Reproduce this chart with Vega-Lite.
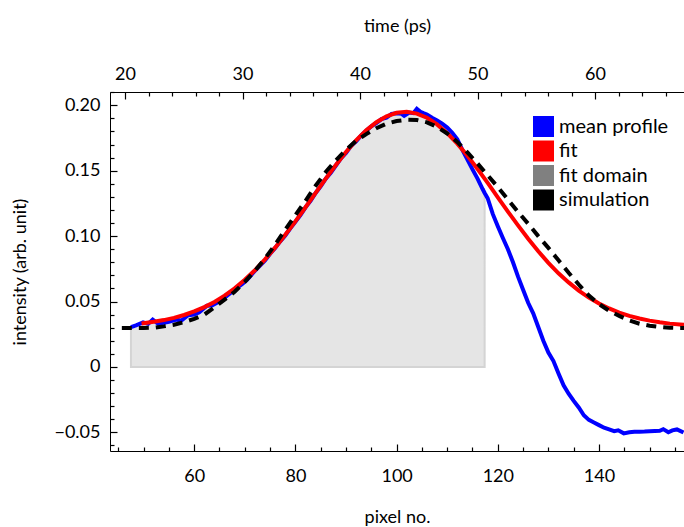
{
  "$schema": "https://vega.github.io/schema/vega-lite/v6.json",
  "width": 574,
  "height": 359,
  "autosize": "none",
  "padding": {"left": 110, "top": 92, "right": 0, "bottom": 76},
  "background": "white",
  "config": {
    "view": {"stroke": "black", "strokeWidth": 1},
    "font": "Lato",
    "axis": {
      "grid": false,
      "ticks": true,
      "domain": false,
      "zindex": 2,
      "tickColor": "black",
      "tickWidth": 1.2,
      "tickOpacity": 1,
      "labelColor": "black",
      "titleColor": "black",
      "labelFont": "Lato",
      "titleFont": "Lato",
      "labelFontSize": 18,
      "titleFontSize": 18,
      "titleFontWeight": "normal",
      "labelOverlap": false,
      "labelFlush": false
    }
  },
  "datasets": {
    "profile": [
      {"p": 47.5, "v": 0.0304}, {"p": 48.5, "v": 0.0318}, {"p": 49.9, "v": 0.034}, {"p": 50.9, "v": 0.0329},
      {"p": 51.8, "v": 0.0361}, {"p": 52.9, "v": 0.0329}, {"p": 54.0, "v": 0.0338}, {"p": 55.0, "v": 0.0345},
      {"p": 56.5, "v": 0.0361}, {"p": 57.5, "v": 0.0355}, {"p": 58.8, "v": 0.0395}, {"p": 60.0, "v": 0.04},
      {"p": 61.0, "v": 0.0418}, {"p": 62.5, "v": 0.0468}, {"p": 63.5, "v": 0.047}, {"p": 64.5, "v": 0.049},
      {"p": 65.5, "v": 0.0515}, {"p": 66.5, "v": 0.0545}, {"p": 67.5, "v": 0.0575}, {"p": 68.5, "v": 0.0605},
      {"p": 69.5, "v": 0.0635}, {"p": 70.5, "v": 0.0668}, {"p": 72, "v": 0.0735}, {"p": 73, "v": 0.0775},
      {"p": 74, "v": 0.0815}, {"p": 75, "v": 0.0865}, {"p": 76, "v": 0.091}, {"p": 77, "v": 0.096},
      {"p": 78, "v": 0.1005}, {"p": 79, "v": 0.106}, {"p": 80, "v": 0.111}, {"p": 81, "v": 0.116},
      {"p": 82, "v": 0.122}, {"p": 83, "v": 0.127}, {"p": 84, "v": 0.133}, {"p": 85, "v": 0.138},
      {"p": 86, "v": 0.144}, {"p": 87, "v": 0.1485}, {"p": 88, "v": 0.154}, {"p": 89, "v": 0.1595},
      {"p": 90, "v": 0.1635}, {"p": 91, "v": 0.169}, {"p": 92, "v": 0.1725}, {"p": 93, "v": 0.177},
      {"p": 94, "v": 0.1805}, {"p": 95, "v": 0.184}, {"p": 96, "v": 0.1865}, {"p": 97, "v": 0.1895},
      {"p": 98, "v": 0.1905}, {"p": 99, "v": 0.1935}, {"p": 100, "v": 0.194}, {"p": 101, "v": 0.1935},
      {"p": 101.5, "v": 0.192}, {"p": 102.5, "v": 0.1945}, {"p": 103.3, "v": 0.194}, {"p": 104, "v": 0.1973},
      {"p": 104.7, "v": 0.195}, {"p": 105.3, "v": 0.194}, {"p": 106, "v": 0.193}, {"p": 107, "v": 0.1905},
      {"p": 108, "v": 0.1885}, {"p": 109, "v": 0.186}, {"p": 110, "v": 0.183}, {"p": 111, "v": 0.179},
      {"p": 112, "v": 0.174}, {"p": 113, "v": 0.166}, {"p": 114, "v": 0.1585}, {"p": 115, "v": 0.151},
      {"p": 116, "v": 0.144}, {"p": 117, "v": 0.136}, {"p": 117.4, "v": 0.133}, {"p": 118, "v": 0.129},
      {"p": 119, "v": 0.117}, {"p": 120, "v": 0.1075}, {"p": 121, "v": 0.0985}, {"p": 122, "v": 0.09},
      {"p": 123, "v": 0.08}, {"p": 124, "v": 0.069}, {"p": 125, "v": 0.059}, {"p": 126, "v": 0.049},
      {"p": 127, "v": 0.041}, {"p": 128, "v": 0.0305}, {"p": 129, "v": 0.02}, {"p": 130, "v": 0.011},
      {"p": 131, "v": 0.0045}, {"p": 132, "v": -0.005}, {"p": 133, "v": -0.014}, {"p": 134, "v": -0.0205},
      {"p": 135, "v": -0.026}, {"p": 136, "v": -0.031}, {"p": 137, "v": -0.037}, {"p": 138, "v": -0.0405},
      {"p": 139, "v": -0.0425}, {"p": 140, "v": -0.0445}, {"p": 141, "v": -0.0465}, {"p": 142, "v": -0.0478},
      {"p": 143, "v": -0.0492}, {"p": 143.8, "v": -0.0485}, {"p": 144.9, "v": -0.0508}, {"p": 146, "v": -0.05},
      {"p": 147, "v": -0.0496}, {"p": 148, "v": -0.0495}, {"p": 149, "v": -0.0494}, {"p": 150, "v": -0.0492},
      {"p": 151, "v": -0.049}, {"p": 152, "v": -0.0488}, {"p": 152.7, "v": -0.0476}, {"p": 153.7, "v": -0.05},
      {"p": 154.5, "v": -0.0485}, {"p": 155.4, "v": -0.0478}, {"p": 156.7, "v": -0.0502}
    ],
    "fit": [
      {"p": 49.6, "v": 0.0332}, {"p": 52, "v": 0.0345}, {"p": 54, "v": 0.0358}, {"p": 56, "v": 0.0375},
      {"p": 58, "v": 0.0397}, {"p": 60, "v": 0.0424}, {"p": 62, "v": 0.0457}, {"p": 64, "v": 0.0497},
      {"p": 66, "v": 0.0545}, {"p": 68, "v": 0.0601}, {"p": 70, "v": 0.0666}, {"p": 72, "v": 0.0739},
      {"p": 74, "v": 0.0822}, {"p": 76, "v": 0.0912}, {"p": 78, "v": 0.101}, {"p": 80, "v": 0.1113},
      {"p": 82, "v": 0.1221}, {"p": 84, "v": 0.133}, {"p": 86, "v": 0.1439}, {"p": 88, "v": 0.1544},
      {"p": 90, "v": 0.1643}, {"p": 92, "v": 0.1732}, {"p": 94, "v": 0.1809}, {"p": 96, "v": 0.1871},
      {"p": 98, "v": 0.1916}, {"p": 100, "v": 0.1943}, {"p": 102, "v": 0.195}, {"p": 104, "v": 0.1937},
      {"p": 106, "v": 0.1905}, {"p": 108, "v": 0.1854}, {"p": 110, "v": 0.1787}, {"p": 112, "v": 0.1707},
      {"p": 114, "v": 0.1614}, {"p": 116, "v": 0.1513}, {"p": 118, "v": 0.1407}, {"p": 120, "v": 0.1297},
      {"p": 122, "v": 0.1188}, {"p": 124, "v": 0.1082}, {"p": 126, "v": 0.098}, {"p": 128, "v": 0.0884},
      {"p": 130, "v": 0.0796}, {"p": 132, "v": 0.0716}, {"p": 134, "v": 0.0646}, {"p": 136, "v": 0.0583},
      {"p": 138, "v": 0.053}, {"p": 140, "v": 0.0485}, {"p": 142, "v": 0.0447}, {"p": 144, "v": 0.0415},
      {"p": 146, "v": 0.039}, {"p": 148, "v": 0.037}, {"p": 150, "v": 0.0354}, {"p": 152, "v": 0.0341},
      {"p": 154, "v": 0.0331}, {"p": 156, "v": 0.0324}, {"p": 157, "v": 0.0321}
    ],
    "simulation": [
      {"p": 45.7, "v": 0.0298}, {"p": 48, "v": 0.0298}, {"p": 50, "v": 0.0298}, {"p": 52, "v": 0.03},
      {"p": 54, "v": 0.031}, {"p": 56, "v": 0.0322}, {"p": 58, "v": 0.0342}, {"p": 60, "v": 0.0368},
      {"p": 62, "v": 0.04}, {"p": 64, "v": 0.0455}, {"p": 66, "v": 0.0515}, {"p": 68, "v": 0.0575},
      {"p": 70, "v": 0.065}, {"p": 72, "v": 0.0735}, {"p": 74, "v": 0.083}, {"p": 76, "v": 0.0935},
      {"p": 78, "v": 0.105}, {"p": 80, "v": 0.116}, {"p": 82, "v": 0.127}, {"p": 84, "v": 0.1385},
      {"p": 86, "v": 0.149}, {"p": 88, "v": 0.158}, {"p": 90, "v": 0.166}, {"p": 92, "v": 0.1728},
      {"p": 94, "v": 0.178}, {"p": 96, "v": 0.1825}, {"p": 98, "v": 0.186}, {"p": 100, "v": 0.188},
      {"p": 102, "v": 0.189}, {"p": 104, "v": 0.1888}, {"p": 106, "v": 0.187}, {"p": 108, "v": 0.1835},
      {"p": 110, "v": 0.1785}, {"p": 112, "v": 0.172}, {"p": 114, "v": 0.164}, {"p": 116, "v": 0.1555},
      {"p": 118, "v": 0.1465}, {"p": 120, "v": 0.1375}, {"p": 122, "v": 0.128}, {"p": 124, "v": 0.1185},
      {"p": 126, "v": 0.1095}, {"p": 128, "v": 0.1}, {"p": 130, "v": 0.091}, {"p": 132, "v": 0.0815},
      {"p": 134, "v": 0.072}, {"p": 136, "v": 0.063}, {"p": 138, "v": 0.0545}, {"p": 140, "v": 0.048},
      {"p": 142, "v": 0.043}, {"p": 144, "v": 0.039}, {"p": 146, "v": 0.0355}, {"p": 148, "v": 0.033},
      {"p": 150, "v": 0.0315}, {"p": 152, "v": 0.0306}, {"p": 154, "v": 0.03}, {"p": 156, "v": 0.0298},
      {"p": 157, "v": 0.0298}
    ],
    "timeaxis": [{"t": 20}, {"t": 60}]
  },
  "layer": [
    {
      "encoding": {
        "x": {
          "field": "p",
          "type": "quantitative",
          "scale": {"domain": [43.36, 156.8], "nice": false, "zero": false},
          "axis": {
            "orient": "bottom",
            "title": "pixel no.",
            "values": [60, 80, 100, 120, 140],
            "offset": -7,
            "tickSize": 7,
            "labelPadding": 16,
            "titleX": 287,
            "titleY": 73,
            "titleAlign": "center",
            "titleBaseline": "middle"
          }
        },
        "y": {
          "field": "v",
          "type": "quantitative",
          "scale": {"domain": [-0.0643, 0.2102], "nice": false, "zero": false},
          "axis": {
            "orient": "left",
            "title": "intensity (arb. unit)",
            "values": [-0.05, 0, 0.05, 0.1, 0.15, 0.2],
            "labelExpr": "abs(datum.value) < 1e-9 ? '0' : (datum.value < 0 ? '\u2212' + format(-datum.value, '.2f') : format(datum.value, '.2f'))",
            "offset": -7,
            "tickSize": 7,
            "labelPadding": 10,
            "titleX": -97,
            "titleY": 179.5,
            "titleAngle": 270,
            "titleAlign": "center",
            "titleBaseline": "middle"
          }
        }
      },
      "layer": [
        {
          "data": {"name": "profile"},
          "transform": [{"filter": "datum.p <= 117.4"}],
          "mark": {"type": "area", "fill": "#e5e5e5", "stroke": "#d4d4d4", "strokeWidth": 2, "clip": true},
          "encoding": {"y2": {"datum": 0}}
        },
        {
          "data": {"name": "profile"},
          "mark": {"type": "line", "strokeWidth": 4, "clip": true},
          "encoding": {
            "color": {
              "datum": "mean profile",
              "scale": {"domain": ["mean profile", "fit", "fit domain", "simulation"], "range": ["#0000ff", "#ff0000", "#808080", "#000000"]},
              "legend": {
                "orient": "none",
                "legendX": 423,
                "legendY": 24,
                "title": null,
                "padding": 0,
                "symbolType": "square",
                "symbolSize": 441,
                "symbolStrokeWidth": 0,
                "labelFont": "Lato",
                "labelFontSize": 20,
                "labelColor": "black",
                "labelOffset": 5,
                "rowPadding": 3.5,
                "labelLimit": 300,
                "encode": {
                  "symbols": {
                    "update": {
                      "fill": {"scale": "color", "field": "value"},
                      "strokeWidth": {"value": 0},
                      "opacity": {"value": 1},
                      "shape": {"value": "square"}
                    }
                  }
                }
              }
            }
          }
        },
        {
          "data": {"name": "fit"},
          "mark": {"type": "line", "strokeWidth": 4, "clip": true},
          "encoding": {"color": {"datum": "fit"}}
        },
        {
          "data": {"name": "simulation"},
          "mark": {"type": "line", "strokeWidth": 4, "strokeDash": [10, 7], "clip": true},
          "encoding": {"color": {"datum": "simulation"}}
        }
      ]
    },
    {
      "data": {"name": "fit"},
      "mark": {"type": "point", "opacity": 0},
      "encoding": {
        "x": {
          "field": "p",
          "type": "quantitative",
          "scale": {"domain": [43.36, 156.8], "nice": false, "zero": false},
          "axis": {
            "orient": "bottom",
            "title": null,
            "labels": false,
            "offset": -4,
            "tickSize": 4,
            "values": [45, 50, 55, 65, 70, 75, 85, 90, 95, 105, 110, 115, 125, 130, 135, 145, 150, 155]
          }
        },
        "y": {
          "field": "v",
          "type": "quantitative",
          "scale": {"domain": [-0.0643, 0.2102], "nice": false, "zero": false},
          "axis": {
            "orient": "left",
            "title": null,
            "labels": false,
            "offset": -4,
            "tickSize": 4,
            "values": [-0.06, -0.04, -0.03, -0.02, -0.01, 0.01, 0.02, 0.03, 0.04, 0.06, 0.07, 0.08, 0.09, 0.11, 0.12, 0.13, 0.14, 0.16, 0.17, 0.18, 0.19, 0.21]
          }
        }
      }
    },
    {
      "data": {"name": "timeaxis"},
      "mark": {"type": "point", "opacity": 0},
      "encoding": {
        "x": {
          "field": "t",
          "type": "quantitative",
          "scale": {"domain": [18.72, 67.57], "nice": false, "zero": false},
          "axis": {
            "orient": "top",
            "title": "time (ps)",
            "values": [20, 30, 40, 50, 60],
            "offset": -7,
            "tickSize": 7,
            "labelPadding": 9,
            "titleX": 287,
            "titleY": -73,
            "titleAlign": "center",
            "titleBaseline": "middle"
          }
        }
      }
    },
    {
      "data": {"name": "timeaxis"},
      "mark": {"type": "point", "opacity": 0},
      "encoding": {
        "x": {
          "field": "t",
          "type": "quantitative",
          "scale": {"domain": [18.72, 67.57], "nice": false, "zero": false},
          "axis": {
            "orient": "top",
            "title": null,
            "labels": false,
            "offset": -4,
            "tickSize": 4,
            "values": [22, 24, 26, 28, 32, 34, 36, 38, 42, 44, 46, 48, 52, 54, 56, 58, 62, 64, 66]
          }
        }
      }
    }
  ],
  "resolve": {"scale": {"x": "independent", "y": "independent"}}
}
